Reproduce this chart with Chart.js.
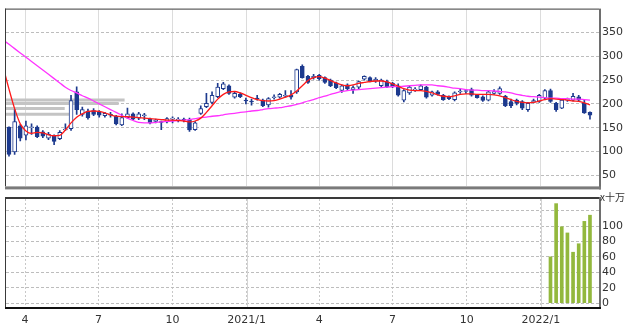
<!DOCTYPE html>
<html><head><meta charset="utf-8">
<script src="https://cdn.jsdelivr.net/npm/chart.js@4.4.1/dist/chart.umd.min.js"></script>
<style>
html,body{margin:0;padding:0;background:#fff;width:629px;height:328px;overflow:hidden;}
#wrap{position:relative;width:629px;height:328px;}
canvas{position:absolute;left:0;}
#c1{top:0;}
#c2{top:188px;}
</style></head><body>
<div id="wrap">
<canvas id="c1" width="629" height="196" style="width:629px;height:196px"></canvas>
<canvas id="c2" width="629" height="140" style="width:629px;height:140px"></canvas>
</div>
<script>
// ---------- DATA ----------
const firstWeekCenter = '2020-03-12';            // centre date of the first weekly candle
const tickDates  = ['2020-04-01','2020-07-01','2020-10-01','2021-01-01','2021-04-01','2021-07-01','2021-10-01','2022-01-01'];
const tickLabels = ['4','7','10','2021/1','4','7','10','2022/1'];

const openP  = [151, 99,154,134,150,151,141,128,133,127,145,148,225,178,185,186,182,175,178,174,
                156,171,179,170,175,168,163,163,162,168,166,168,166,146,180,194,203,215,232,238,
                214,220,208,206,212,208,198,213,214,216,218,225,279,258,255,260,255,250,244,228,
                240,230,235,252,255,248,238,247,243,238,208,223,229,230,235,218,225,218,215,209,
                225,226,230,218,215,208,222,222,216,205,208,205,188,204,205,212,228,201,191,208,
                208,215,201,182];
const highP  = [152,188,157,164,158,154,144,140,135,144,158,218,236,193,189,190,186,182,182,176,
                179,191,181,182,180,170,168,164,171,173,171,170,170,163,196,222,225,243,245,240,
                224,223,212,210,218,210,213,219,222,228,228,273,282,260,262,262,257,252,246,240,
                242,238,248,259,257,255,252,250,245,242,230,237,234,240,237,227,228,220,217,225,
                231,230,233,220,217,227,230,236,218,210,210,207,203,210,220,230,231,203,210,212,
                222,218,208,183];
const lowP   = [ 90, 94,122,124,136,129,129,125,114,125,144,144,178,174,168,175,172,172,172,156,
                154,170,166,167,167,158,160,146,160,160,162,162,142,144,178,192,200,213,230,220,
                212,213,200,197,208,194,193,210,212,214,210,222,254,243,252,250,243,236,232,224,
                228,222,232,250,246,245,236,234,234,216,204,220,226,228,212,216,218,207,209,206,
                222,222,216,212,205,206,220,220,194,192,198,188,184,202,203,210,203,184,190,205,
                206,206,180,168];
const closeP = [ 94,163,128,154,152,131,132,136,121,140,147,207,188,188,171,178,176,180,176,158,
                171,179,168,179,177,160,166,161,169,170,168,166,145,160,190,201,218,235,242,222,
                222,215,206,204,210,196,211,215,220,218,214,272,255,245,258,253,245,238,234,238,
                232,234,247,258,248,252,250,236,236,218,228,235,231,238,214,225,220,209,211,223,
                227,228,218,213,207,225,226,232,196,196,201,191,201,207,218,228,205,188,208,210,
                216,208,181,176];

// moving averages, one value per week starting one week before the first candle
const maShort = [276,231,190,158,143,138,140,139,135,133,134,145,160,172,179,184,185,184,181,177,
                 174,173,173,172,171,170,169,168,167,166,166,165,164,162,164,170,182,196,210,220,
                 225,226,223,218,213,209,207,206,207,210,214,219,227,238,249,255,257,254,249,244,
                 240,238,240,243,245,247,248,248,246,242,237,232,229,228,228,226,223,219,216,215,
                 217,220,221,221,220,220,220,219,217,213,209,205,203,202,203,206,209,211,210,209,
                 208,206,205,202,198];
const maLong  = [334,325,316,307,298,289,280,271,262,253,244,235,228,223,217,212,206,200,194,188,
                 182,176,170,165,161,160,160,161,162,163,164,165,166,167,169,171,172,174,175,177,
                 179,180,182,183,185,186,188,190,191,192,194,196,199,202,206,209,213,216,220,223,
                 226,228,229,230,231,232,233,234,235,236,236,237,238,239,240,240,240,238,237,235,
                 233,232,230,229,229,228,228,227,226,225,223,220,218,216,215,214,213,212,212,211,
                 211,210,210,209,208];

// volume (x 十万), available only for the last weeks
const volWeeks = [96,97,98,99,100,101,102,103];
const volume   = [60,129,99,91,66,77,106,114];

// volume-by-price bars (price level, relative volume)
const pvPrice  = [208,201,190,178];
const pvVolume = [200,190,99,109];

const priceTicks = [50,100,150,200,250,300,350];
const volTicks   = [0,20,40,60,80,100,120];

// ---------- CHART ----------
const NAVY = '#1d3a8e';
const FONT = {family:'DejaVu Sans', size:11};
const TXT = '#333';
const xMin = -0.53, xMax = 104.6;
const WEEK = 7*86400000;
const tickPos = tickDates.map(d => (Date.parse(d) - Date.parse(firstWeekCenter)) / WEEK);
const idx = openP.map((_, i) => i);

const framePlugin = {
  id: 'frame',
  beforeDatasetsDraw(chart, args, o) {
    if (!o.yearLines) return;
    const {ctx, chartArea: a, scales: {x}} = chart;
    ctx.save();
    ctx.strokeStyle = o.yearLines;
    ctx.lineWidth = 1;
    tickPos.forEach((v, i) => {
      if (tickLabels[i].indexOf('/') < 0) return;
      const px = Math.round(x.getPixelForValue(v)) + 0.5;
      ctx.beginPath(); ctx.moveTo(px, a.top); ctx.lineTo(px, a.bottom); ctx.stroke();
    });
    ctx.restore();
  },
  afterDraw(chart, args, o) {
    const {ctx, chartArea: a} = chart;
    ctx.save();
    ctx.fillStyle = o.tl;
    ctx.fillRect(a.left - 1, a.top - o.topW, a.right - a.left + 1, o.topW);
    ctx.fillRect(a.left - 1, a.top - 1, 1, a.bottom - a.top + 1);
    ctx.fillStyle = o.r;
    ctx.fillRect(a.right, a.top - o.topW, 2, a.bottom - a.top + o.topW + o.bottomW);
    ctx.fillStyle = o.b;
    ctx.fillRect(a.left - 1, a.bottom, a.right - a.left + 3, o.bottomW);
    if (o.unit) {
      ctx.fillStyle = TXT;
      ctx.font = '10px "Noto Sans CJK JP"';
      ctx.textBaseline = 'middle';
      ctx.textAlign = 'left';
      ctx.fillText(o.unit, a.right + 1, a.top - 2);
    }
    ctx.restore();
  }
};

const pvSets = pvPrice.map((p, k) => ({
  type: 'line', xAxisID: 'xpv',
  data: [{x: 0, y: p}, {x: pvVolume[k], y: p}],
  borderColor: '#c4c4c4', borderWidth: 3, pointRadius: 0, order: 5, borderCapStyle: 'butt'
}));

new Chart(document.getElementById('c1'), {
  data: {
    datasets: [
      ...pvSets,
      { type: 'bar', data: idx.map(i => ({x: i, y: [lowP[i], highP[i]]})),
        backgroundColor: NAVY, barThickness: 1, grouped: false, order: 4 },
      { type: 'bar', data: idx.map(i => ({x: i, y: [openP[i], closeP[i]]})),
        backgroundColor: c => (closeP[c.dataIndex] >= openP[c.dataIndex] ? '#ffffff' : NAVY),
        borderColor: NAVY, borderWidth: 1, borderSkipped: false, barThickness: 4, grouped: false, order: 3 },
      { type: 'line', data: maLong.map((v, k) => ({x: k - 1, y: v})),
        borderColor: '#ff33ff', borderWidth: 1.3, pointRadius: 0, order: 2, cubicInterpolationMode: 'monotone' },
      { type: 'line', data: maShort.map((v, k) => ({x: k - 1, y: v})),
        borderColor: '#ff1a1a', borderWidth: 1.3, pointRadius: 0, order: 1, cubicInterpolationMode: 'monotone' }
    ]
  },
  options: {
    responsive: false, animation: false, devicePixelRatio: 1,
    layout: {padding: {left: 6, top: 6, right: 0, bottom: 0}},
    plugins: {legend: {display: false}, tooltip: {enabled: false},
      frame: {tl: '#3a3a3a', r: '#6e6e6e', b: '#7a7a7a', topW: 1, bottomW: 3}},
    scales: {
      x: {type: 'linear', min: xMin, max: xMax, offset: false,
        afterBuildTicks: s => { s.ticks = tickPos.map(v => ({value: v})); },
        ticks: {display: false}, grid: {color: '#dcdcdc', drawTicks: false, offset: false},
        border: {display: false}, afterFit: s => { s.height = 6; }},
      xpv: {type: 'linear', min: 0, max: 1000, display: false, offset: false},
      y: {position: 'right', min: 26.6, max: 398,
        afterBuildTicks: s => { s.ticks = priceTicks.map(v => ({value: v})); },
        ticks: {font: FONT, color: TXT, padding: 3},
        grid: {color: '#bdbdbd', drawTicks: false},
        border: {display: false, dash: [3, 2]},
        afterFit: s => { s.width = 30; }}
    }
  },
  plugins: [framePlugin]
});

new Chart(document.getElementById('c2'), {
  data: {
    datasets: [
      { type: 'bar', data: volWeeks.map((w, k) => ({x: w, y: volume[k]})),
        backgroundColor: '#93b83d', borderWidth: 0, barThickness: 3 }
    ]
  },
  options: {
    responsive: false, animation: false, devicePixelRatio: 1,
    layout: {padding: {left: 6, top: 11, right: 0, bottom: 0}},
    plugins: {legend: {display: false}, tooltip: {enabled: false},
      frame: {tl: '#3a3a3a', r: '#6e6e6e', b: '#111111', topW: 2, bottomW: 2, unit: 'x十万', yearLines: '#d4d4d4'}},
    scales: {
      x: {type: 'linear', min: xMin, max: xMax, offset: false,
        afterBuildTicks: s => { s.ticks = tickPos.map(v => ({value: v})); },
        ticks: {font: FONT, color: TXT, padding: 7, maxRotation: 0, autoSkip: false,
          callback: (v, i) => tickLabels[i]},
        grid: {color: '#c8c8c8', drawTicks: false, offset: false},
        border: {display: false, dash: [2, 2]},
        afterFit: s => { s.height = 21; }},
      y: {position: 'right', min: -5, max: 135,
        afterBuildTicks: s => { s.ticks = volTicks.map(v => ({value: v})); },
        ticks: {font: FONT, color: TXT, padding: 3, callback: v => (v === 120 ? '' : v)},
        grid: {color: '#bdbdbd', drawTicks: false},
        border: {display: false, dash: [3, 2]},
        afterFit: s => { s.width = 30; }}
    }
  },
  plugins: [framePlugin]
});
</script>
</body></html>
